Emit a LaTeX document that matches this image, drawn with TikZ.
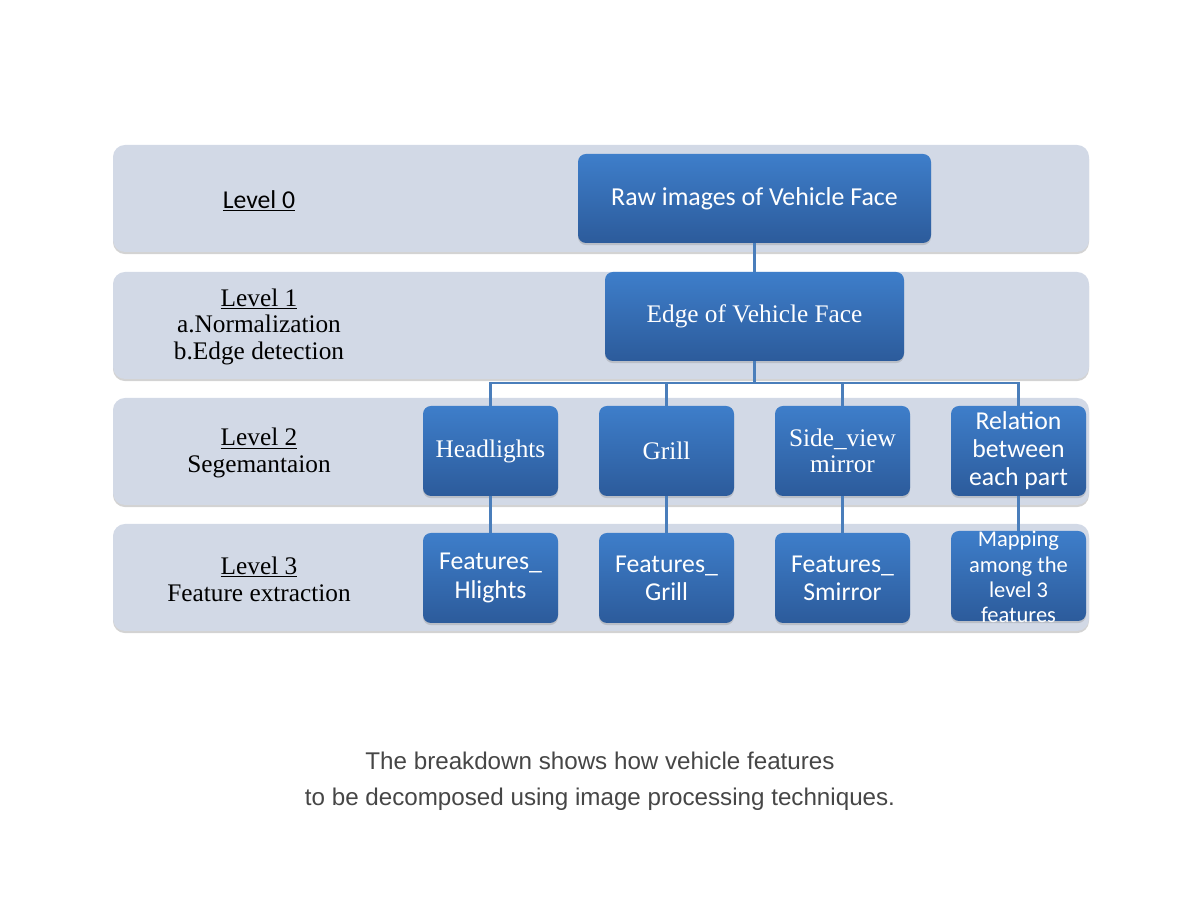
\documentclass[tikz,border=0pt]{standalone}
\usepackage{fontspec}
\setmainfont{Liberation Serif}
\newfontfamily\carl{Carlito}
\newfontfamily\capfont{Liberation Sans}
\usetikzlibrary{shadows}
\definecolor{bandfill}{RGB}{210,217,230}
\definecolor{bluetop}{RGB}{62,126,202}
\definecolor{bluebot}{RGB}{44,91,155}
\definecolor{linkblue}{RGB}{74,126,187}
\definecolor{capgray}{RGB}{70,70,70}

\begin{document}
\begin{tikzpicture}[
  band/.style={rectangle,rounded corners=0.3cm,fill=bandfill,minimum width=24.4cm,minimum height=2.675cm,
    drop shadow={shadow xshift=0pt,shadow yshift=-1.5pt,opacity=0.35}},
  level/.style={align=center,font=\fontsize{18}{19}\selectfont},
  box/.style={rectangle,rounded corners=0.2cm,top color=bluetop,bottom color=bluebot,draw=none,text=white,
    align=center,minimum height=2.25cm,minimum width=3.375cm,font=\fontsize{18}{19}\selectfont,
    drop shadow={shadow xshift=0pt,shadow yshift=-1.5pt,opacity=0.3}},
  link/.style={draw=linkblue,line width=1.5pt}]
\useasboundingbox (0,0) rectangle (30,22.5);

% level bands
\node[band] (lev0) at (15.025,17.5375) {};
\node[band] (lev1) at (15.025,14.3625) {};
\node[band] (lev2) at (15.025,11.2125) {};
\node[band] (lev3) at (15.025,8.0625) {};

\node[level,font=\carl\fontsize{18.3}{19}\selectfont] (lab0) at (6.475,17.48) {\underline{Level 0}};
\node[level] (lab1) at (6.475,14.33) {\underline{Level 1}\\a.Normalization\\b.Edge detection};
\node[level] (lab2) at (6.475,11.17) {\underline{Level 2}\\Segemantaion};
\node[level] (lab3) at (6.475,8.02) {\underline{Level 3}\\Feature extraction};

% boxes
\node[box,minimum width=8.825cm,minimum height=2.225cm,font=\carl\fontsize{18.4}{19}\selectfont] (raw) at (18.8625,17.5375) {Raw images of Vehicle Face};
\node[box,minimum width=7.475cm,minimum height=2.225cm] (edge) at (18.8625,14.5875) {Edge of Vehicle Face};

\node[box] (head) at (12.2625,11.225) {Headlights};
\node[box] (grill) at (16.6625,11.225) {Grill};
\node[box] (mirror) at (21.0625,11.225) {Side\_view\\mirror};
\node[box,font=\carl\fontsize{18.3}{20}\selectfont] (relation) at (25.4625,11.225) {Relation\\between\\each part};

\node[box,font=\carl\fontsize{18.3}{20}\selectfont] (fhead) at (12.2625,8.05) {Features\_\\Hlights};
\node[box,font=\carl\fontsize{18.3}{20}\selectfont] (fgrill) at (16.6625,8.05) {Features\_\\Grill};
\node[box,font=\carl\fontsize{18.3}{20}\selectfont] (fmirror) at (21.0625,8.05) {Features\_\\Smirror};
\node[box] (mapping) at (25.4625,8.1) {};
\node[text=white,align=center,font=\carl\fontsize{16}{18}\selectfont] (maptext) at (25.4625,8.07) {Mapping\\among the\\level 3\\features};

% connectors
\coordinate (fork) at (18.8625,12.925);
\draw[link] (raw.south) -- (edge.north);
\draw[link] (edge.south) -- (fork) -| (head.north);
\draw[link] (fork) -| (grill.north);
\draw[link] (fork) -| (mirror.north);
\draw[link] (fork) -| (relation.north);
\draw[link] (head.south) -- (fhead.north);
\draw[link] (grill.south) -- (fgrill.north);
\draw[link] (mirror.south) -- (fmirror.north);
\draw[link] (relation.south) -- (mapping.north);

% caption
\node[text=capgray,align=center,font=\capfont\fontsize{17.2}{25.5}\selectfont] (caption) at (15,2.975)
  {The breakdown shows how vehicle features\\to be decomposed using image processing techniques.};
\end{tikzpicture}
\end{document}
